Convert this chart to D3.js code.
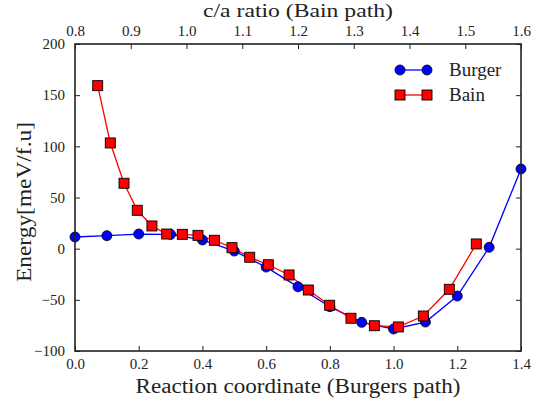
<!DOCTYPE html>
<html><head><meta charset="utf-8">
<script src="https://cdn.jsdelivr.net/npm/d3@7"></script>
<style>body{margin:0;background:#fff}svg{display:block}text{font-family:"Liberation Serif","DejaVu Serif",serif;fill:#222}</style>
</head><body><svg id="c" width="537" height="406"></svg>
<script>
// Burgers path: reaction coordinate -> energy
const burgerX = [0.0,0.1,0.2,0.3,0.4,0.5,0.6,0.7,0.8,0.9,1.0,1.1,1.2,1.3,1.4];
const burgerY = [11.4,12.7,14.3,14,8.5,-2.3,-18,-37.3,-56.7,-72,-78.5,-71.7,-46.3,1.3,77.9];
// Bain path: c/a ratio -> energy
const bainCA = [0.8407,0.8633,0.8879,0.9117,0.938,0.9645,0.9925,1.0206,1.05,1.0816,1.1134,1.1467,1.184,1.2185,1.2568,1.295,1.337,1.38,1.4248,1.4714,1.5198];
const bainY = [159.3,103.3,63.9,37.5,22.2,14.3,14,13,8.2,1,-8.4,-15.7,-25.7,-40.4,-55.3,-68,-75.3,-76.5,-65.8,-39.7,4.6];
const bottomTicks = [0.0,0.2,0.4,0.6,0.8,1.0,1.2,1.4];
const topTicks = [0.8,0.9,1.0,1.1,1.2,1.3,1.4,1.5,1.6];
const yTicks = [-100,-50,0,50,100,150,200];

const L=75,R=521,T=44,B=351;
const svg=d3.select("#c");
const x=d3.scaleLinear().domain([0,1.4]).range([L,R]);
const xt=d3.scaleLinear().domain([0.8,1.6]).range([L,R]);
const y=d3.scaleLinear().domain([-100,200]).range([B,T]);

const blue="#0000ff", red="#ff0000";
const bData=burgerX.map((v,i)=>[x(v),y(burgerY[i])]);
const rData=bainCA.map((v,i)=>[xt(v),y(bainY[i])]);
svg.append("defs").append("clipPath").attr("id","cp").append("rect").attr("x",L-6).attr("y",T).attr("width",R-L+12).attr("height",B-T);
const plot=svg.append("g").attr("clip-path","url(#cp)");
plot.append("path").attr("d",d3.line()(bData)).attr("fill","none").attr("stroke",blue).attr("stroke-width",1.3);
plot.append("path").attr("d",d3.line()(rData)).attr("fill","none").attr("stroke",red).attr("stroke-width",1.3);
plot.selectAll("circle.b").data(bData).join("circle").attr("cx",d=>d[0]).attr("cy",d=>d[1]).attr("r",5).attr("fill",blue).attr("stroke","#000").attr("stroke-width",0.8);
plot.selectAll("rect.r").data(rData).join("rect").attr("x",d=>d[0]-5).attr("y",d=>d[1]-5).attr("width",10).attr("height",10).attr("fill",red).attr("stroke","#000").attr("stroke-width",0.9);

// axes
const fs=15;
const ax1=svg.append("g").attr("transform",`translate(0,${B})`).call(d3.axisBottom(x).tickValues(bottomTicks).tickFormat(d3.format(".1f")).tickSizeInner(-5).tickSizeOuter(0).tickPadding(7));
const ax2=svg.append("g").attr("transform",`translate(0,${T})`).call(d3.axisTop(xt).tickValues(topTicks).tickFormat(d3.format(".1f")).tickSizeInner(-5).tickSizeOuter(0).tickPadding(8));
const ay1=svg.append("g").attr("transform",`translate(${L},0)`).call(d3.axisLeft(y).tickValues(yTicks).tickFormat(d3.format("d")).tickSizeInner(-5).tickSizeOuter(0).tickPadding(10));
const ay2=svg.append("g").attr("transform",`translate(${R},0)`).call(d3.axisRight(y).tickValues(yTicks).tickFormat("").tickSizeInner(-5).tickSizeOuter(0));
[ax1,ax2,ay1,ay2].forEach(a=>{a.attr("font-family",null).attr("font-size",null);a.select(".domain").remove();a.selectAll("line").attr("stroke","#222").attr("stroke-width",1);a.selectAll("text").style("font-family",'"Liberation Serif",serif').style("font-size",fs+"px").attr("fill","#222");});
svg.append("rect").attr("x",L).attr("y",T).attr("width",R-L).attr("height",B-T).attr("fill","none").attr("stroke","#222").attr("stroke-width",1.6);

// titles
svg.append("text").attr("x",(L+R)/2).attr("y",17).attr("text-anchor","middle").style("font-size","19px").attr("textLength",190).attr("lengthAdjust","spacingAndGlyphs").text("c/a ratio (Bain path)");
svg.append("text").attr("x",(L+R)/2).attr("y",393).attr("text-anchor","middle").style("font-size","20px").attr("textLength",325).attr("lengthAdjust","spacingAndGlyphs").text("Reaction coordinate (Burgers path)");
svg.append("text").attr("transform",`translate(31,202) rotate(-90)`).attr("text-anchor","middle").style("font-size","20px").attr("textLength",160).attr("lengthAdjust","spacingAndGlyphs").text("Energy[meV/f.u]");

// legend
const leg=[{name:"Burger",c:blue,shape:"circle",yy:70},{name:"Bain",c:red,shape:"square",yy:95}];
leg.forEach(d=>{
  const lg=svg.append("g");
  lg.append("line").attr("x1",400).attr("x2",427).attr("y1",d.yy).attr("y2",d.yy).attr("stroke",d.c).attr("stroke-width",1.3);
  [400,427].forEach(px=>{
    if(d.shape==="circle") lg.append("circle").attr("cx",px).attr("cy",d.yy).attr("r",5).attr("fill",d.c).attr("stroke","#000").attr("stroke-width",0.8);
    else lg.append("rect").attr("x",px-5).attr("y",d.yy-5).attr("width",10).attr("height",10).attr("fill",d.c).attr("stroke","#000").attr("stroke-width",0.9);
  });
  lg.append("text").attr("x",449).attr("y",d.yy+6).style("font-size","19px").text(d.name);
});
</script></body></html>
